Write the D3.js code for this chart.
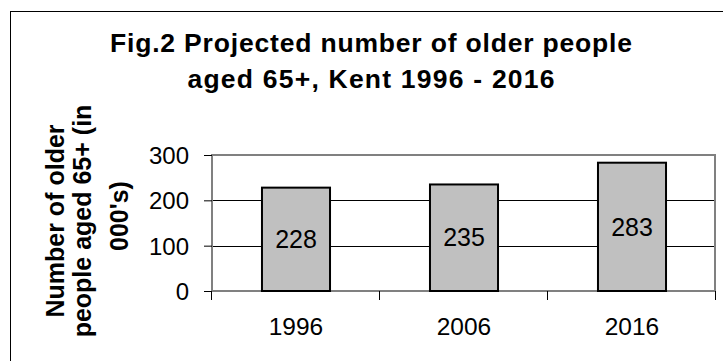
<!DOCTYPE html>
<html lang="en">
<head>
    <meta charset="utf-8">
    <script src="https://cdn.jsdelivr.net/npm/d3@7/dist/d3.min.js"></script>
    <style>
        body { margin: 0; background: #fff; }
        text { font-family: Arial, 'Liberation Sans', sans-serif; fill: #000; }
    </style>
</head>
<body>

<script>
    var w = 723;
    var h = 361;

    var years = ['1996', '2006', '2016'];
    var people = [228, 235, 283];   // thousands aged 65+
    var yTicks = [0, 100, 200, 300];
    var titleLines = ['Fig.2 Projected number of older people', 'aged 65+, Kent 1996 - 2016'];
    var yTitleLines = ['Number of older', 'people aged 65+ (in', "000's)"];

    var plot = {left: 212, right: 716, top: 155, bottom: 291};

    var svg = d3.select('body').append('svg')
        .attr('width', w)
        .attr('height', h);

    // outer chart frame (runs off the bottom/right of the picture)
    svg.append('rect')
        .attr('x', 10.5)
        .attr('y', 11.5)
        .attr('width', w + 20)
        .attr('height', h + 20)
        .attr('fill', 'none')
        .attr('stroke', '#000')
        .attr('stroke-width', 1);

    var x = d3.scaleBand()
        .domain(years)
        .range([plot.left, plot.right])
        .paddingInner(0.595)
        .paddingOuter(0.2975);

    var y = d3.scaleLinear()
        .domain([0, 300])
        .range([plot.bottom, plot.top]);

    // gridlines
    svg.append('g')
        .selectAll('line')
        .data(yTicks.slice(1, -1))
        .enter()
        .append('line')
        .attr('x1', plot.left)
        .attr('x2', plot.right)
        .attr('y1', function(d) { return Math.round(y(d)) + 0.5; })
        .attr('y2', function(d) { return Math.round(y(d)) + 0.5; })
        .attr('stroke', '#000')
        .attr('stroke-width', 1);

    // plot area border (grey)
    svg.append('rect')
        .attr('x', plot.left)
        .attr('y', plot.top)
        .attr('width', plot.right - plot.left - 1)
        .attr('height', plot.bottom - plot.top)
        .attr('fill', 'none')
        .attr('stroke', '#808080')
        .attr('stroke-width', 2);

    // y axis ticks + labels
    var yAxis = svg.append('g')
        .attr('transform', 'translate(' + plot.left + ',0)')
        .call(d3.axisLeft(y).tickValues(yTicks).tickSize(8).tickPadding(15));
    yAxis.select('.domain').remove();
    yAxis.selectAll('.tick line').attr('stroke', '#000');
    yAxis.selectAll('.tick text')
        .attr('font-size', '24px')
        .attr('font-family', null)
        .attr('dy', '0.35em');

    // x axis: Excel-style ticks between categories
    var step = x.step();
    var xEdges = d3.range(years.length + 1).map(function(i) { return plot.left + i * step; });
    svg.append('g')
        .selectAll('line')
        .data(xEdges)
        .enter()
        .append('line')
        .attr('x1', function(d) { return Math.round(d) - 0.5; })
        .attr('x2', function(d) { return Math.round(d) - 0.5; })
        .attr('y1', plot.bottom)
        .attr('y2', plot.bottom + 9)
        .attr('stroke', '#000')
        .attr('stroke-width', 1);

    svg.append('g')
        .selectAll('text')
        .data(years)
        .enter()
        .append('text')
        .text(function(d) { return d; })
        .attr('x', function(d) { return x(d) + x.bandwidth() / 2; })
        .attr('y', 335)
        .attr('text-anchor', 'middle')
        .attr('font-size', '24.5px');

    // bars
    svg.append('g')
        .selectAll('rect')
        .data(people)
        .enter()
        .append('rect')
        .attr('x', function(d, i) { return x(years[i]); })
        .attr('y', function(d) { return y(d); })
        .attr('width', x.bandwidth())
        .attr('height', function(d) { return y(0) - y(d); })
        .attr('fill', '#c0c0c0')
        .attr('stroke', '#000')
        .attr('stroke-width', 2);

    // value labels in the middle of each bar
    svg.append('g')
        .selectAll('text')
        .data(people)
        .enter()
        .append('text')
        .text(function(d) { return d; })
        .attr('x', function(d, i) { return x(years[i]) + x.bandwidth() / 2; })
        .attr('y', function(d) { return (y(d) + y(0)) / 2; })
        .attr('dy', '0.35em')
        .attr('text-anchor', 'middle')
        .attr('font-size', '25px');

    // title
    var titleBase = [52, 88];
    var titleLen = [522, 367];
    svg.append('g')
        .selectAll('text')
        .data(titleLines)
        .enter()
        .append('text')
        .text(function(d) { return d; })
        .attr('x', 371)
        .attr('y', function(d, i) { return titleBase[i]; })
        .attr('text-anchor', 'middle')
        .attr('font-size', '26.5px')
        .attr('font-weight', 'bold')
        .attr('textLength', function(d, i) { return titleLen[i]; })
        .attr('lengthAdjust', 'spacing');

    // y axis title, three rotated lines
    var yTitleBase = [64, 91, 128];
    var yTitleMid = [221, 221, 216];
    svg.append('g')
        .selectAll('text')
        .data(yTitleLines)
        .enter()
        .append('text')
        .text(function(d) { return d; })
        .attr('transform', function(d, i) {
            return 'translate(' + yTitleBase[i] + ',' + yTitleMid[i] + ') rotate(-90)';
        })
        .attr('text-anchor', 'middle')
        .attr('font-size', '25px')
        .attr('font-weight', 'bold');

</script>
</body>
</html>
